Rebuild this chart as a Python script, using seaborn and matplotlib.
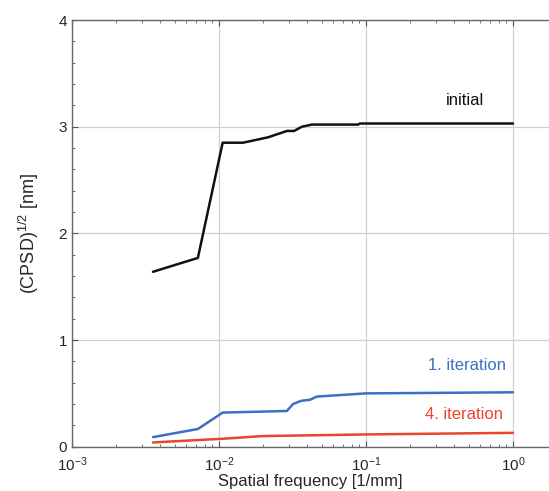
import numpy as np
import pandas as pd
import matplotlib
matplotlib.use("Agg")
import matplotlib.pyplot as plt
import seaborn as sns
from matplotlib.ticker import LogLocator, MultipleLocator, NullFormatter

# data
freq_initial = [0.00356, 0.00719, 0.0106, 0.0146, 0.0215, 0.0290, 0.0324, 0.0367, 0.0429, 0.0883, 0.091, 1.0]
val_initial = [1.64, 1.77, 2.85, 2.85, 2.90, 2.96, 2.96, 3.00, 3.02, 3.02, 3.03, 3.03]

freq_iter1 = [0.00356, 0.00719, 0.0106, 0.029, 0.0319, 0.0362, 0.0416, 0.0463, 0.1, 1.0]
val_iter1 = [0.09, 0.166, 0.32, 0.335, 0.40, 0.43, 0.44, 0.47, 0.50, 0.51]

freq_iter4 = [0.00356, 0.0107, 0.02, 0.1, 1.0]
val_iter4 = [0.04, 0.075, 0.10, 0.115, 0.13]

series_names = ["initial", "1. iteration", "4. iteration"]
series_colors = ["#111111", "#3a6fc4", "#e8472b"]

frames = []
for name, f, v in zip(series_names, [freq_initial, freq_iter1, freq_iter4],
                      [val_initial, val_iter1, val_iter4]):
    frames.append(pd.DataFrame({"freq": f, "val": v, "series": name}))
df = pd.concat(frames, ignore_index=True)

sns.set_style("ticks")
plt.rcParams['font.family'] = ['Liberation Sans', 'DejaVu Sans']
plt.rcParams['mathtext.fontset'] = 'custom'
plt.rcParams['mathtext.rm'] = 'Liberation Sans'
plt.rcParams['mathtext.it'] = 'Liberation Sans:italic'
plt.rcParams['mathtext.bf'] = 'Liberation Sans:bold'
plt.rcParams['mathtext.default'] = 'regular'

fig = plt.figure(figsize=(5.49, 4.91), dpi=100)
ax = fig.add_axes([0.131, 0.0902, 0.869, 0.869])

sns.lineplot(data=df, x="freq", y="val", hue="series", palette=series_colors,
             hue_order=series_names, ax=ax, linewidth=1.8, legend=False, sort=False,
             estimator=None)

ax.set_xscale("log")
ax.set_xlim(1e-3, 10 ** 0.245)
ax.set_ylim(0, 4)
ax.set_xticks([1e-3, 1e-2, 1e-1, 1e0])
ax.set_xticklabels([r"$10^{-3}$", r"$10^{-2}$", r"$10^{-1}$", r"$10^{0}$"])
ax.xaxis.set_minor_locator(LogLocator(base=10, subs=np.arange(2, 10)))
ax.xaxis.set_minor_formatter(NullFormatter())
ax.set_yticks([0, 1, 2, 3, 4])
ax.yaxis.set_minor_locator(MultipleLocator(0.2))

ax.grid(True, which="major", color="#d0d0d0", linewidth=0.9)
ax.set_axisbelow(True)

ax.tick_params(which="both", direction="in", top=True, right=False, labelsize=11, color="#555555")
ax.tick_params(axis="x", which="major", pad=6)
ax.tick_params(which="major", length=4)
ax.tick_params(which="minor", length=2.5)
for s in ["left", "bottom", "top"]:
    ax.spines[s].set_color("#666666")
    ax.spines[s].set_linewidth(1.0)
ax.spines["right"].set_visible(False)

ax.set_xlabel("Spatial frequency [1/mm]", fontsize=12, labelpad=0)
ax.set_ylabel(r"(CPSD)$^{1/2}$ [nm]", fontsize=13, labelpad=13)

ax.text(0.47, 3.25, "initial", color=series_colors[0], fontsize=12, ha="center", va="center")
ax.text(0.90, 0.76, "1. iteration", color=series_colors[1], fontsize=12, ha="right", va="center")
ax.text(0.86, 0.30, "4. iteration", color=series_colors[2], fontsize=12, ha="right", va="center")

fig.savefig("out.png", dpi=100)
